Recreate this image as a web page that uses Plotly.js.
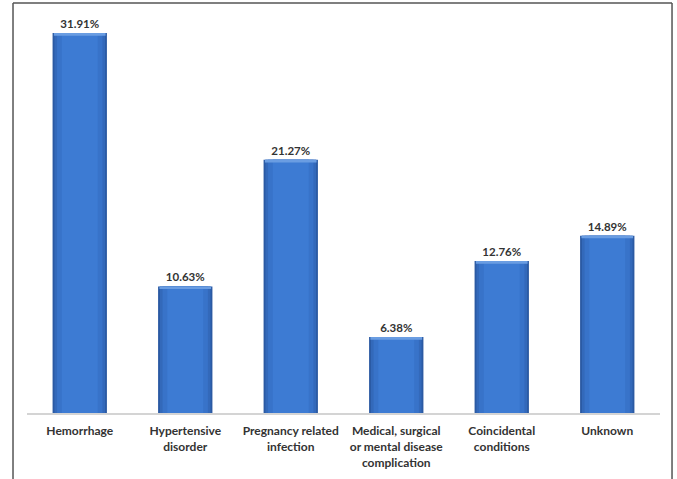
<!DOCTYPE html>
<html>
<head>
<meta charset="utf-8">
<script src="https://cdn.plot.ly/plotly-3.0.1.min.js"></script>
<style>html,body{margin:0;padding:0;background:#fff;}#chart{width:677px;height:479px;}</style>
</head>
<body>
<div id="chart"></div>
<script>
const categories = ["Hemorrhage", "Hypertensive<br>disorder", "Pregnancy related<br>infection", "Medical, surgical<br>or mental disease<br>complication", "Coincidental<br>conditions", "Unknown"];
const values = [31.91, 10.63, 21.27, 6.38, 12.76, 14.89];
const valueLabels = values.map(v => v.toFixed(2) + "%");

const layers = [
  {w: 0.515, c: "#2b5aa3"},
  {w: 0.48, c: "#3369ba"},
  {w: 0.43, c: "#3873c9"},
  {w: 0.34, c: "#3d7bd3"}
];

const traces = layers.map((L, i) => ({
  type: "bar",
  x: categories,
  y: values,
  width: L.w,
  marker: {color: L.c, line: {width: 0}},
  hoverinfo: "skip",
  showlegend: false,
  text: i === 0 ? valueLabels : undefined,
  textposition: i === 0 ? "outside" : "none",
  textfont: {family: "Lato, 'Open Sans', sans-serif", size: 11.5, color: "#333333", weight: "bold"},
  cliponaxis: false
}));

// light bevel cap at the top of each bar
const capH = 0.22;
traces.push({
  type: "bar",
  x: categories,
  y: values.map(() => capH),
  base: values.map(v => v - capH),
  width: 0.49,
  marker: {color: "#6a9de2", line: {width: 0}},
  hoverinfo: "skip",
  showlegend: false
});

const layout = {
  width: 677, height: 479,
  margin: {l: 27, r: 17, t: 13, b: 66},
  paper_bgcolor: "#ffffff", plot_bgcolor: "#ffffff",
  barmode: "overlay",
  showlegend: false,
  xaxis: {
    type: "category",
    showgrid: false, zeroline: false,
    showline: true, linecolor: "#d4d4d4", linewidth: 2,
    ticks: "",
    ticklabelstandoff: 6,
    tickfont: {family: "Lato, 'Open Sans', sans-serif", size: 12, color: "#333333", weight: "bold"},
    fixedrange: true
  },
  yaxis: {
    range: [0, 33.6],
    showgrid: false, zeroline: false, showline: false,
    showticklabels: false, ticks: "",
    fixedrange: true
  },
  shapes: [
    {type: "line", xref: "paper", yref: "paper", x0: -0.0221, x1: -0.0221, y0: 1.025, y1: -0.17, line: {color: "#555555", width: 1.5}},
    {type: "line", xref: "paper", yref: "paper", x0: -0.0221, x1: 1.019, y0: 1.025, y1: 1.025, line: {color: "#555555", width: 1.5}},
    {type: "line", xref: "paper", yref: "paper", x0: 1.019, x1: 1.019, y0: 1.025, y1: -0.17, line: {color: "#555555", width: 1.5}}
  ]
};

Plotly.newPlot("chart", traces, layout, {displayModeBar: false, staticPlot: true});
</script>
</body>
</html>
